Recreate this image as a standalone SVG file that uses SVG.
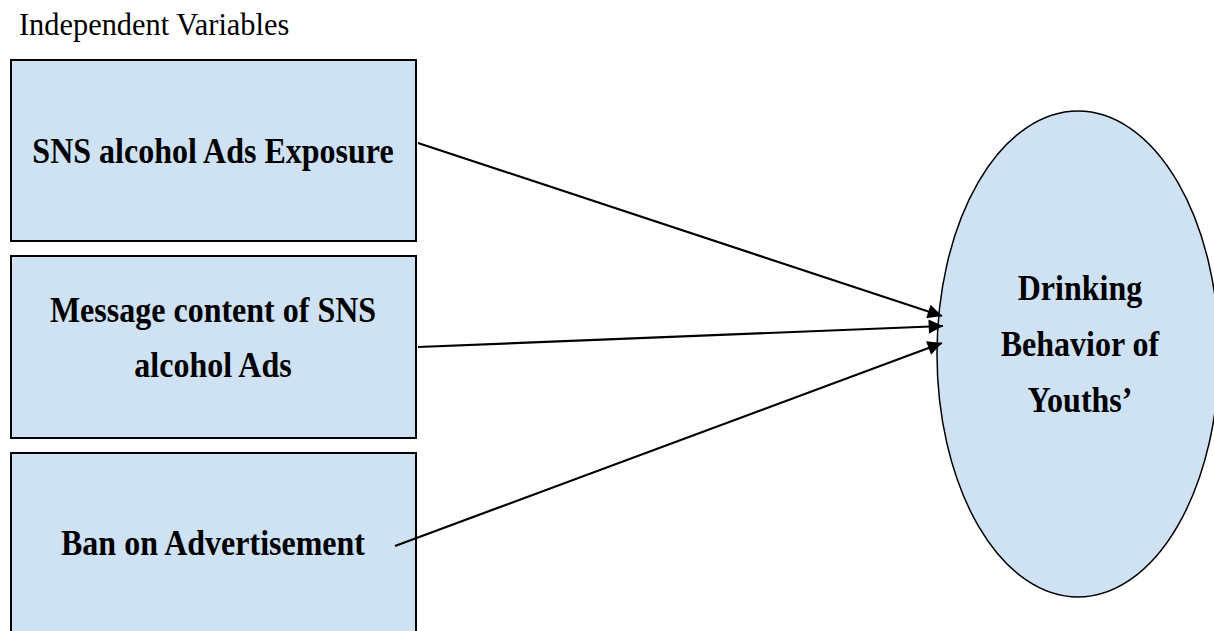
<svg xmlns="http://www.w3.org/2000/svg" width="1214" height="631" viewBox="0 0 1214 631">
<style>
.box{fill:#cfe2f3;stroke:#000;stroke-width:2}
.t{font-family:"Liberation Serif","Times New Roman",serif;font-size:32px;font-weight:bold;text-anchor:middle;fill:#000}
.conn{stroke:#000;stroke-width:2.2;fill:none;marker-end:url(#ah)}
</style>
<defs>
<marker id="ah" viewBox="0 0 10 10" refX="10" refY="5" markerWidth="7.5" markerHeight="6.5" markerUnits="strokeWidth" orient="auto">
<path d="M0,0 L10,5 L0,10 Z" fill="#000"/>
</marker>
</defs>
<rect width="1214" height="631" fill="#fff"/>
<text transform="translate(19,35) scale(1,1.05)" font-family="Liberation Serif, Times New Roman, serif" font-size="30.4" fill="#000">Independent Variables</text>
<g id="n1">
<rect class="box" x="11" y="60" width="405" height="181"/>
<text class="t" transform="translate(213,163) scale(1,1.09)">SNS alcohol Ads Exposure</text>
</g>
<g id="n2">
<rect class="box" x="11" y="256" width="405" height="182"/>
<text class="t" transform="translate(213,322) scale(1,1.09)">Message content of SNS</text>
<text class="t" transform="translate(213,377) scale(1,1.09)">alcohol Ads</text>
</g>
<g id="n3">
<rect class="box" x="11" y="453" width="405" height="182"/>
<text class="t" transform="translate(213,555) scale(1,1.09)">Ban on Advertisement</text>
</g>
<g id="n4">
<ellipse class="box" cx="1078" cy="354" rx="141" ry="243" style="stroke-width:1.5"/>
<text class="t" transform="translate(1080,300) scale(1,1.09)">Drinking</text>
<text class="t" transform="translate(1080,356) scale(1,1.09)">Behavior of</text>
<text class="t" transform="translate(1080,412) scale(1,1.09)">Youths’</text>
</g>
<g id="connectors">
<line class="conn" x1="418" y1="143" x2="942" y2="316"/>
<line class="conn" x1="418" y1="347" x2="943" y2="326"/>
<line class="conn" x1="395" y1="546" x2="942" y2="343"/>
</g>
</svg>
